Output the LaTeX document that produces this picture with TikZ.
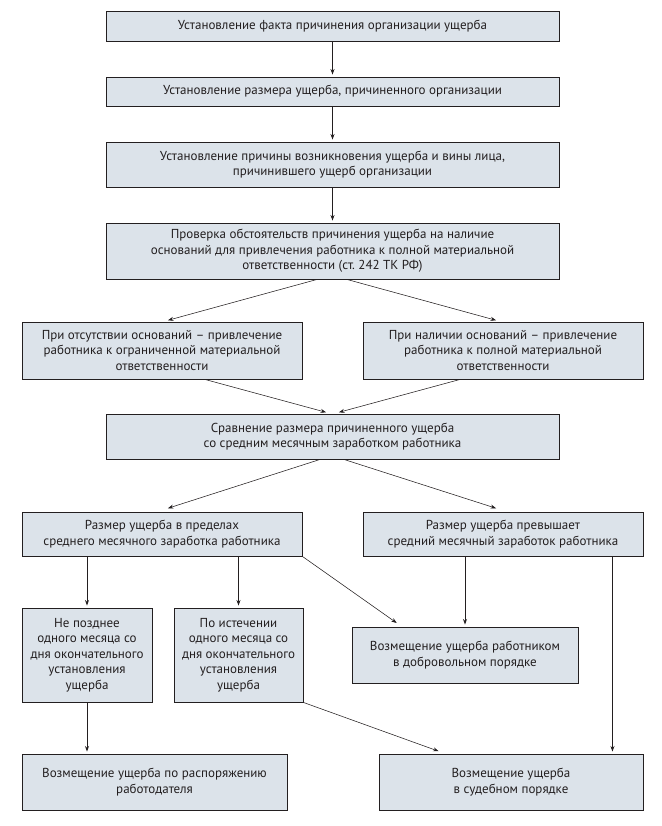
\documentclass[tikz,border=0pt]{standalone}
\usepackage{fontspec}
\setmainfont{PT Sans}
\usetikzlibrary{arrows.meta,calc}
\definecolor{boxfill}{HTML}{DCE3EA}
\definecolor{ink}{HTML}{231F20}
\frenchspacing
\begin{document}
\begin{tikzpicture}[x=1pt,y=-1pt,
  box/.style={draw=ink,fill=boxfill,line width=0.9pt,align=center,inner sep=0pt,
    font=\fontsize{13}{15.5}\selectfont,text=ink},
  arr/.style={draw=ink,line width=0.8pt,-{Stealth[length=5.5pt,width=4pt]},shorten >=2pt},
  darr/.style={draw=ink,line width=0.55pt,-{Stealth[length=5.5pt,width=4pt]},shorten >=1pt},
  line/.style={draw=ink,line width=0.8pt}]
\useasboundingbox (0,0) rectangle (661,826);
\node[box,minimum width=453pt,minimum height=30pt] (b1) at (332.5,26) {Установление факта причинения организации ущерба};
\node[box,minimum width=453pt,minimum height=29pt] (b2) at (332.5,91.5) {Установление размера ущерба, причиненного организации};
\node[box,minimum width=453pt,minimum height=45pt] (b3) at (332.5,164.5) {Установление причины возникновения ущерба и вины лица,\\причинившего ущерб организации};
\node[box,minimum width=453pt,minimum height=56pt] (b4) at (332.5,251) {Проверка обстоятельств причинения ущерба на наличие\\оснований для привлечения работника к полной материальной\\ответственности (ст. 242 ТК РФ)};
\node[box,minimum width=280pt,minimum height=57pt] (b5l) at (162,350.5) {При отсутствии оснований – привлечение\\работника к ограниченной материальной\\ответственности};
\node[box,minimum width=280pt,minimum height=57pt] (b5r) at (503,350.5) {При наличии оснований – привлечение\\работника к полной материальной\\ответственности};
\node[box,minimum width=453pt,minimum height=45pt] (b6) at (332.5,436.5) {Сравнение размера причиненного ущерба\\со средним месячным заработком работника};
\node[box,minimum width=280pt,minimum height=44pt] (b7l) at (162,534) {Размер ущерба в пределах\\среднего месячного заработка работника};
\node[box,minimum width=280pt,minimum height=44pt] (b7r) at (503,534) {Размер ущерба превышает\\средний месячный заработок работника};
\node[box,minimum width=130pt,minimum height=94pt] (b8a) at (87,655) {Не позднее\\одного месяца со\\дня окончательного\\установления\\ущерба};
\node[box,minimum width=129pt,minimum height=94pt] (b8b) at (238.5,655) {По истечении\\одного месяца со\\дня окончательного\\установления\\ущерба};
\node[box,minimum width=226pt,minimum height=56pt] (b9) at (465,655) {Возмещение ущерба работником\\в добровольном порядке};
\node[box,minimum width=265pt,minimum height=56pt] (b10a) at (154.5,782) {Возмещение ущерба по распоряжению\\работодателя};
\node[box,minimum width=264pt,minimum height=56pt] (b10b) at (511,782) {Возмещение ущерба\\в судебном порядке};
% connectors
\draw[arr] (b1) -- (b2);
\draw[arr] (b2) -- (b3);
\draw[arr] (b3) -- (b4);
\draw[darr] ($(b4.south)+(-15.5,0)$) -- ($(b5l.north)+(5,-1)$);
\draw[darr] ($(b4.south)+(14.5,0)$) -- ($(b5r.north)+(-6,-1)$);
\draw[darr] ($(b5l.south)+(43,0)$) -- ($(b6.north)+(-5.5,-1)$);
\draw[darr] ($(b5r.south)+(-43,0)$) -- ($(b6.north)+(5.5,-1)$);
\draw[darr] ($(b6.south)+(-12.5,0)$) -- ($(b7l.north)+(5,-3)$);
\draw[darr] ($(b6.south)+(11.5,0)$) -- ($(b7r.north)+(-6,-3)$);
\draw[arr] (b7l.south -| b8a) -- (b8a);
\draw[arr] (b7l.south -| b8b) -- (b8b);
\draw[darr] (b7l.south east) -- ($(b9.north west)+(46,-3)$);
\draw[arr] (b7r.south -| b9) -- (b9);
\draw[arr] ($(b7r.south east)+(-31,0)$) -- ($(b10b.north east)+(-31,0)$);
\draw[arr] (b8a) -- (b8a |- b10a.north);
\draw[darr] (b8b.south east) -- ($(b10b.north west)+(61,-2)$);
\end{tikzpicture}
\end{document}
